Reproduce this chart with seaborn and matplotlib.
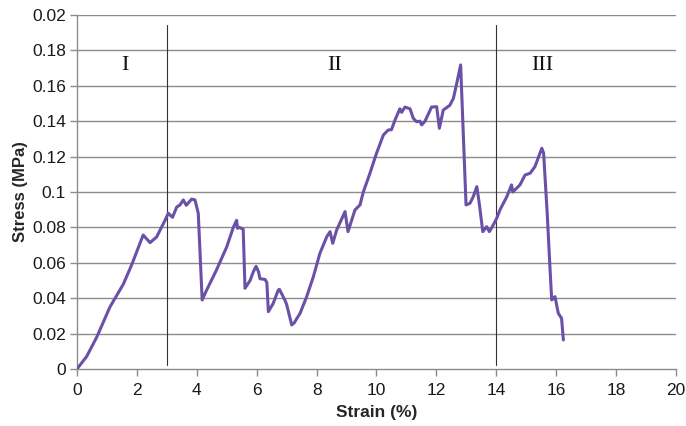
import seaborn as sns
import pandas as pd
import matplotlib.pyplot as plt

# strain (%) / stress (MPa)
strain = [0.0, 0.32, 0.66, 1.1, 1.55, 1.83, 2.21, 2.44, 2.66, 2.94, 3.05, 3.19, 3.33, 3.44,
          3.55, 3.65, 3.83, 3.94, 4.05, 4.18, 4.33, 4.66, 5.0, 5.22, 5.33, 5.36, 5.42, 5.55,
          5.61, 5.78, 5.89, 5.98, 6.06, 6.11, 6.28, 6.34, 6.39, 6.55, 6.72, 6.76, 6.94, 7.0,
          7.17, 7.25, 7.45, 7.67, 7.89, 8.11, 8.34, 8.45, 8.54, 8.67, 8.95, 9.05, 9.28, 9.45,
          9.56, 9.78, 10.0, 10.23, 10.39, 10.5, 10.62, 10.78, 10.84, 10.95, 11.12, 11.23,
          11.34, 11.45, 11.51, 11.62, 11.84, 12.01, 12.1, 12.23, 12.45, 12.57, 12.68, 12.81,
          12.99, 13.12, 13.23, 13.35, 13.42, 13.55, 13.68, 13.77, 13.9, 14.01, 14.12, 14.35,
          14.51, 14.55, 14.79, 14.96, 15.13, 15.29, 15.52, 15.58, 15.7, 15.79, 15.85, 15.96,
          16.07, 16.18, 16.24]
stress = [0.0, 0.007, 0.018, 0.035, 0.048, 0.059, 0.0757, 0.0714, 0.0746, 0.084, 0.088, 0.0857,
          0.0915, 0.0927, 0.0955, 0.0925, 0.096, 0.0955, 0.088, 0.039, 0.0446, 0.056, 0.069,
          0.080, 0.084, 0.0795, 0.080, 0.079, 0.0456, 0.050, 0.055, 0.058, 0.055, 0.051, 0.0506,
          0.0488, 0.0324, 0.037, 0.0446, 0.045, 0.039, 0.0365, 0.0249, 0.026, 0.0315, 0.0409,
          0.052, 0.0653, 0.0747, 0.0776, 0.071, 0.0785, 0.0889, 0.0776, 0.0898, 0.0927, 0.100,
          0.1105, 0.1218, 0.1322, 0.135, 0.1352, 0.1407, 0.147, 0.145, 0.148, 0.147, 0.1416,
          0.1397, 0.140, 0.1379, 0.140, 0.148, 0.1482, 0.136, 0.1463, 0.149, 0.153, 0.1614,
          0.1718, 0.0927, 0.0936, 0.0973, 0.103, 0.095, 0.0776, 0.0804, 0.0776, 0.0814, 0.085,
          0.0898, 0.0973, 0.104, 0.100, 0.104, 0.1096, 0.1106, 0.1143, 0.1247, 0.122, 0.088,
          0.058, 0.039, 0.0409, 0.0315, 0.0286, 0.0164]

stage_bounds = [3, 14]
stage_labels = ["I", "II", "III"]
stage_label_x = [1.6, 8.6, 15.55]

x_ticks = list(range(0, 21, 2))
y_ticks = [0, 0.02, 0.04, 0.06, 0.08, 0.1, 0.12, 0.14, 0.16, 0.18, 0.2]
y_tick_labels = ["0", "0.02", "0.04", "0.06", "0.08", "0.1", "0.12", "0.14", "0.16", "0.18", "0.02"]


def main():
    sns.set_style("white")
    plt.rcParams['font.family'] = ['Liberation Sans', 'DejaVu Sans']
    data = pd.DataFrame({"Strain": strain, "Stress": stress})

    fig = plt.figure(figsize=(6.86, 4.26), dpi=100)
    ax = fig.add_axes([0.1122, 0.1338, 0.8732, 0.831])

    for yv in y_ticks[1:]:
        ax.axhline(yv, color="#8c8c8c", lw=1.0, zorder=1)
    for xb in stage_bounds:
        ax.axvline(xb, ymin=0.01, ymax=0.972, color="#333333", lw=0.8, zorder=2)

    sns.lineplot(data=data, x="Strain", y="Stress", ax=ax, color="#6a50a7",
                 lw=2.2, estimator=None, sort=False, zorder=3)

    for lab, xl in zip(stage_labels, stage_label_x):
        ax.text(xl, 0.1715, lab, ha="center", va="center", fontsize=16,
                family=["Liberation Serif", "DejaVu Serif"], color="#111111")

    ax.set_xlim(0, 20)
    ax.set_ylim(0, 0.2)
    ax.set_xticks(x_ticks)
    ax.set_yticks(y_ticks)
    ax.set_yticklabels(y_tick_labels)
    ax.tick_params(axis="both", which="major", length=5, width=1, color="#8c8c8c",
                   direction="out", labelsize=12.5, labelcolor="#1a1a1a", pad=3)
    ax.tick_params(axis="y", left=True)
    ax.tick_params(axis="x", bottom=True, pad=5)

    for side in ["top", "right"]:
        ax.spines[side].set_visible(False)
    for side in ["left", "bottom"]:
        ax.spines[side].set_color("#8c8c8c")
        ax.spines[side].set_linewidth(1.0)

    ax.set_xlabel("Strain (%)", fontsize=12.5, fontweight="bold", labelpad=5)
    ax.set_ylabel("Stress (MPa)", fontsize=12, fontweight="bold", labelpad=3)

    plt.savefig("out.png", dpi=100)


if __name__ == "__main__":
    main()
